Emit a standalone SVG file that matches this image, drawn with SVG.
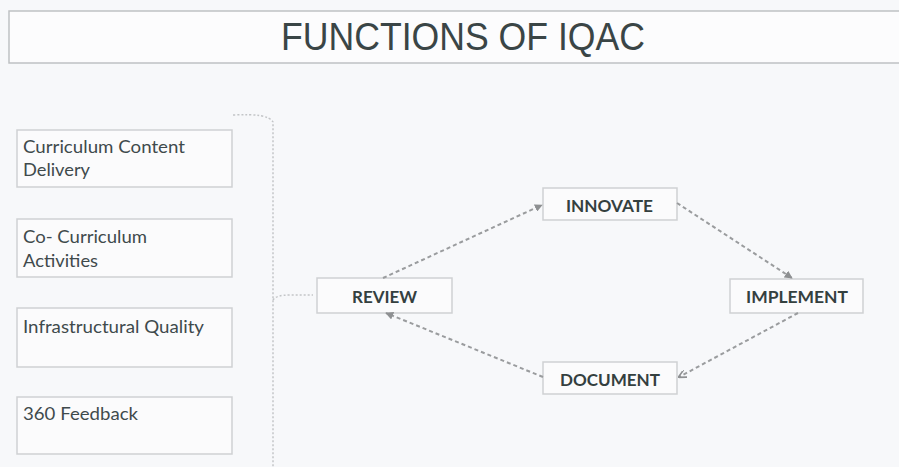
<svg xmlns="http://www.w3.org/2000/svg" width="899" height="467" viewBox="0 0 899 467">
<style>
.bg{fill:#f7f8fa}
.box{fill:#fbfbfc;stroke:#cfd1d3;stroke-width:1.5}
.lt{font-family:Lato,"Open Sans","Liberation Sans",sans-serif;font-size:17px;fill:#3f4a4c}
.nt{font-family:Lato,"Open Sans","Liberation Sans",sans-serif;font-size:17px;font-weight:bold;fill:#34403f}
.title{font-family:"Liberation Sans",Arial,sans-serif;font-size:38px;fill:#3a4546}
.conn{fill:none;stroke:#9a9c9e;stroke-width:2;stroke-dasharray:4 3}
.brk{fill:none;stroke:#c3c5c7;stroke-width:1.5;stroke-dasharray:2 2}
</style>
<defs>
<marker id="ah" viewBox="0 0 10 10" refX="9" refY="5" markerWidth="4" markerHeight="4" orient="auto">
<path d="M0,0 L10,5 L0,10 Z" fill="#8e9092"/>
</marker>
<marker id="ao" viewBox="0 0 10 10" refX="9" refY="5" markerWidth="4" markerHeight="4" orient="auto">
<path d="M0,0 L10,5 L0,10" fill="none" stroke="#8e9092" stroke-width="2"/>
</marker>
</defs>
<rect class="bg" x="0" y="0" width="899" height="467"/>
<g id="title">
<rect x="9" y="11" width="900" height="52" fill="#fcfcfd" stroke="#bfc1c3" stroke-width="1.5"/>
<text class="title" x="281" y="50" textLength="364" lengthAdjust="spacingAndGlyphs">FUNCTIONS OF IQAC</text>
</g>
<g id="n-curriculum">
<rect class="box" x="17" y="130" width="215" height="57"/>
<text class="lt" x="23" y="153" textLength="162" lengthAdjust="spacingAndGlyphs">Curriculum Content</text>
<text class="lt" x="23" y="176" textLength="67" lengthAdjust="spacingAndGlyphs">Delivery</text>
</g>
<g id="n-cocurriculum">
<rect class="box" x="17" y="219" width="215" height="58"/>
<text class="lt" x="23" y="243" textLength="124" lengthAdjust="spacingAndGlyphs">Co- Curriculum</text>
<text class="lt" x="23" y="267" textLength="75" lengthAdjust="spacingAndGlyphs">Activities</text>
</g>
<g id="n-infra">
<rect class="box" x="17" y="308" width="215" height="59"/>
<text class="lt" x="23" y="333" textLength="181" lengthAdjust="spacingAndGlyphs">Infrastructural Quality</text>
</g>
<g id="n-feedback">
<rect class="box" x="17" y="397" width="215" height="57"/>
<text class="lt" x="23" y="420" textLength="115" lengthAdjust="spacingAndGlyphs">360 Feedback</text>
</g>
<g id="n-review">
<rect class="box" x="317" y="278" width="135" height="35"/>
<text class="nt" x="352" y="303" textLength="65" lengthAdjust="spacingAndGlyphs">REVIEW</text>
</g>
<g id="n-innovate">
<rect class="box" x="543" y="188" width="134" height="32"/>
<text class="nt" x="566" y="212" textLength="87" lengthAdjust="spacingAndGlyphs">INNOVATE</text>
</g>
<g id="n-implement">
<rect class="box" x="730" y="279" width="133" height="34"/>
<text class="nt" x="746" y="303" textLength="102" lengthAdjust="spacingAndGlyphs">IMPLEMENT</text>
</g>
<g id="n-document">
<rect class="box" x="543" y="362" width="134" height="32"/>
<text class="nt" x="560" y="386" textLength="100" lengthAdjust="spacingAndGlyphs">DOCUMENT</text>
</g>
<g id="connectors">
<path class="brk" d="M233,115 Q268,113 273,122 L273,467"/>
<path class="brk" d="M273,300 Q276,295 290,295 L313,295" stroke-dasharray="none"/>
<path class="conn" d="M383,278 L542,205" marker-end="url(#ah)"/>
<path class="conn" d="M677,203 L792,278" marker-end="url(#ah)"/>
<path class="conn" d="M798,313 L679,377" marker-end="url(#ao)"/>
<path class="conn" d="M543,377 L386,313" marker-end="url(#ah)"/>
</g>
</svg>
